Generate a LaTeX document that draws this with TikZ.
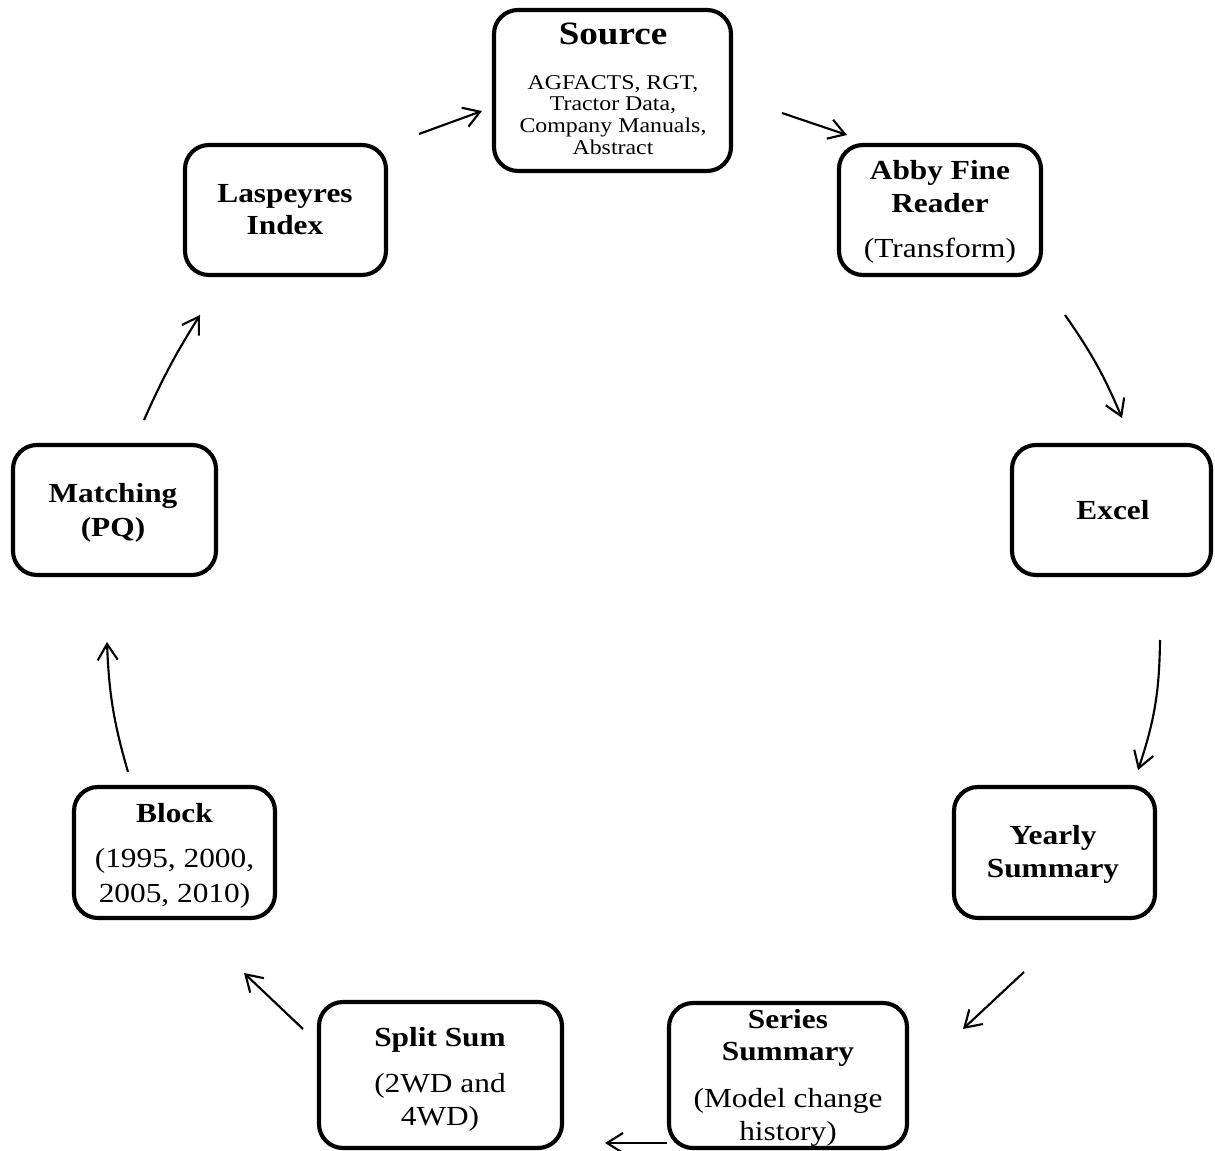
\documentclass[tikz,border=0pt]{standalone}
\usepackage{fontspec}
\setmainfont{Liberation Serif}
\usepackage{graphicx}
\usetikzlibrary{arrows.meta}
\newcommand\sqz[1]{\scalebox{1}[0.88]{#1}}
\begin{document}
\begin{tikzpicture}[x=0.75pt,y=-0.75pt,
 box/.style 2 args={draw, line width=3.1pt, rounded corners=18pt, minimum width=#1*0.75pt, minimum height=#2*0.75pt, inner sep=0pt, outer sep=0pt},
 lbold/.style={anchor=base, inner sep=0pt, font=\fontsize{23.5}{28}\selectfont\bfseries},
 lreg/.style={anchor=base, inner sep=0pt, font=\fontsize{23.5}{28}\selectfont},
 lhead/.style={anchor=base, inner sep=0pt, font=\fontsize{27.8}{32}\selectfont\bfseries},
 lsmall/.style={anchor=base, inner sep=0pt, font=\fontsize{17.9}{20}\selectfont},
 flow/.style={line width=1.6pt, -{Straight Barb[length=12pt,width=15pt,line width=1.6pt]}}
]
\useasboundingbox (0,0) rectangle (1215,1151);

% Source
\node[box={237}{161}] (src) at (612.5,90.5) {};
\node[lhead]  (srcT) at (613,45)    {\sqz{Source}};
\node[lsmall] (srcA) at (613,89.3)  {\sqz{AGFACTS, RGT,}};
\node[lsmall] (srcB) at (613,111)   {\sqz{Tractor Data,}};
\node[lsmall] (srcC) at (613,132.7) {\sqz{Company Manuals,}};
\node[lsmall] (srcD) at (613,154.4) {\sqz{Abstract}};

% Abby
\node[box={202}{130}] (abby) at (940,210) {};
\node[lbold] (abbyA) at (940,180)   {\sqz{Abby Fine}};
\node[lbold] (abbyB) at (940,212.7) {\sqz{Reader}};
\node[lreg]  (abbyC) at (940,258)   {\sqz{(Transform)}};

% Excel
\node[box={199}{130}] (excel) at (1111.5,510) {};
\node[lbold] (excelT) at (1113,519.3) {\sqz{Excel}};

% Yearly
\node[box={201}{131}] (year) at (1054.5,852.5) {};
\node[lbold] (yearA) at (1053,845) {\sqz{Yearly}};
\node[lbold] (yearB) at (1053,877) {\sqz{Summary}};

% Series
\node[box={238}{145}] (ser) at (788,1075.5) {};
\node[lbold] (serA) at (788,1028) {\sqz{Series}};
\node[lbold] (serB) at (788,1060) {\sqz{Summary}};
\node[lreg]  (serC) at (788,1107) {\sqz{(Model change}};
\node[lreg]  (serD) at (788,1140) {\sqz{history)}};

% Split
\node[box={243}{146}] (split) at (440.5,1075) {};
\node[lbold] (splitA) at (440,1046) {\sqz{Split Sum}};
\node[lreg]  (splitB) at (440,1092) {\sqz{(2WD and}};
\node[lreg]  (splitC) at (440,1125) {\sqz{4WD)}};

% Block
\node[box={201}{131}] (blk) at (174.5,852.5) {};
\node[lbold] (blkA) at (174.5,822) {\sqz{Block}};
\node[lreg]  (blkB) at (174.5,868) {\sqz{(1995, 2000,}};
\node[lreg]  (blkC) at (174.5,902) {\sqz{2005, 2010)}};

% Matching
\node[box={203}{130}] (match) at (114.5,510) {};
\node[lbold] (matchA) at (113,502.7) {\sqz{Matching}};
\node[lbold] (matchB) at (113,537)   {\sqz{(PQ)}};

% Laspeyres
\node[box={201}{130}] (lasp) at (285.5,210) {};
\node[lbold] (laspA) at (285,202.7) {\sqz{Laspeyres}};
\node[lbold] (laspB) at (285,235)   {\sqz{Index}};

% arrow end points
\coordinate (a1s) at (419,134);  \coordinate (a1e) at (482,111);
\coordinate (a2s) at (782,113);  \coordinate (a2e) at (847,135);
\coordinate (a3s) at (1065,315); \coordinate (a3e) at (1122,418);
\coordinate (a4s) at (1160,640); \coordinate (a4e) at (1138,770);
\coordinate (a5s) at (1024,972); \coordinate (a5e) at (963,1029);
\coordinate (a6s) at (667,1143); \coordinate (a6e) at (605,1143);
\coordinate (a7s) at (303,1029); \coordinate (a7e) at (244,973);
\coordinate (a8s) at (128,772);  \coordinate (a8e) at (107,642);
\coordinate (a9s) at (144,420);  \coordinate (a9e) at (200,315);

\draw[flow] (a1s) -- (a1e);
\draw[flow] (a2s) -- (a2e);
\draw[flow] (a3s) to[bend left=6] (a3e);
\draw[flow] (a4s) to[bend left=9] (a4e);
\draw[flow] (a5s) -- (a5e);
\draw[flow] (a6s) -- (a6e);
\draw[flow] (a7s) -- (a7e);
\draw[flow] (a8s) to[bend left=7] (a8e);
\draw[flow] (a9s) to[bend left=4] (a9e);
\end{tikzpicture}
\end{document}
